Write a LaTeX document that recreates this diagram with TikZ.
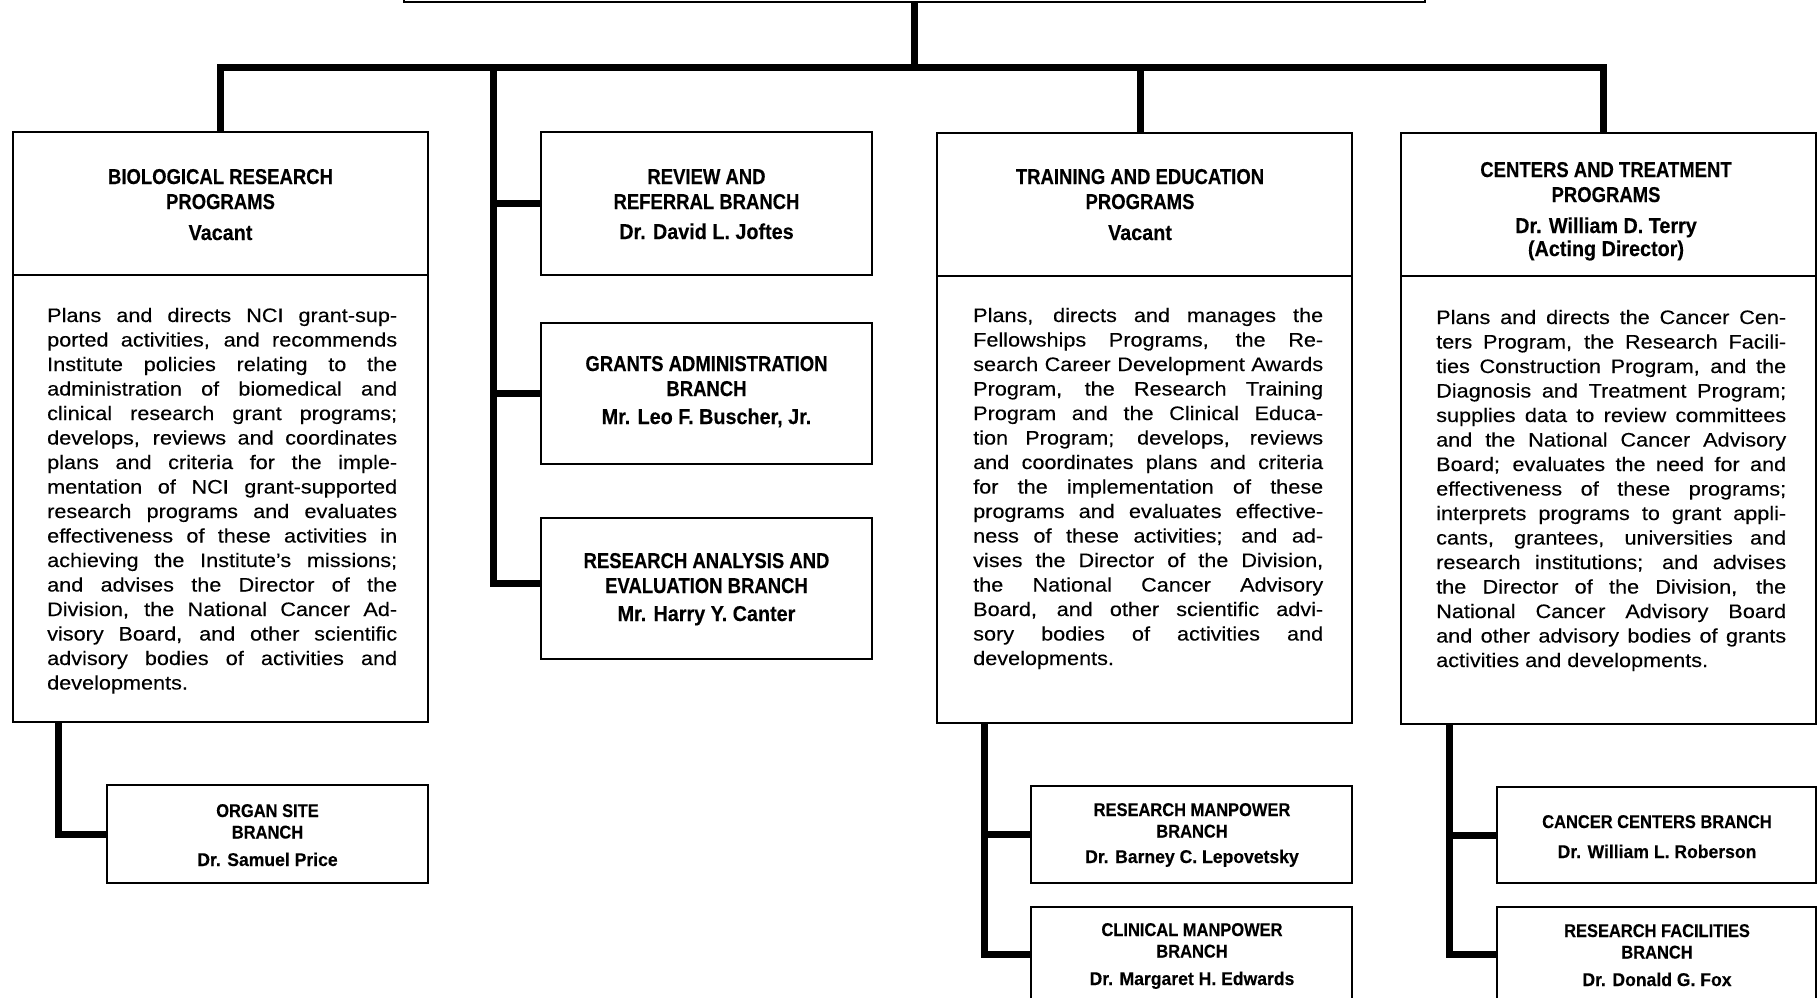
\documentclass[tikz,border=0pt]{standalone}
\usepackage{fontspec}
\setmainfont{Liberation Sans}
\newfontfamily\fBody[FakeStretch=1.11,FakeBold=0.25]{Liberation Sans}
\newfontfamily\fHead[FakeStretch=0.86,FakeBold=0.3]{Liberation Sans}
\newfontfamily\fName[FakeStretch=0.92,FakeBold=0.3]{Liberation Sans}
\newfontfamily\fSubHead[FakeStretch=0.89,FakeBold=0.3]{Liberation Sans}
\newfontfamily\fSubName[FakeStretch=0.95,FakeBold=0.3]{Liberation Sans}
\newcommand\jl[1]{\makebox[\linewidth][s]{#1}\par}
\newcommand\bodytext[1]{\parbox[t]{350pt}{\fBody\fontsize{19.5}{24.5}\selectfont\parindent=0pt #1}}
\newcommand\hd[1]{\fontsize{21.5}{25}\selectfont\begin{tabular}[t]{@{}c@{}}#1\end{tabular}}
\newcommand\sh[1]{\fontsize{18.5}{21.5}\selectfont\begin{tabular}[t]{@{}c@{}}#1\end{tabular}}
\usetikzlibrary{calc}
\begin{document}
\begin{tikzpicture}[x=1pt,y=-1pt,
  box/.style={draw, line width=2.4pt, inner sep=0pt, outer sep=0pt, anchor=north west},
  conn/.style={line width=7pt, line join=miter},
  divider/.style={line width=2.4pt},
  htext/.style={anchor=base, inner sep=0pt, font=\fHead\bfseries},
  stext/.style={anchor=base, inner sep=0pt, font=\fSubHead\bfseries},
  btext/.style={anchor=base west, inner sep=0pt}]
\useasboundingbox (0,0) rectangle (1819,997);
\clip (0,0) rectangle (1819,997);

% boxes
\node[box, anchor=south west, minimum width=1021pt, minimum height=60pt] (top) at (404,2) {};
\node[box, minimum width=415pt, minimum height=590pt] (bio) at (13,132) {};
\node[box, minimum width=331pt, minimum height=143pt] (review) at (541,132) {};
\node[box, minimum width=331pt, minimum height=141pt] (grants) at (541,323) {};
\node[box, minimum width=331pt, minimum height=141pt] (analysis) at (541,518) {};
\node[box, minimum width=415pt, minimum height=590pt] (training) at (937,133) {};
\node[box, minimum width=415pt, minimum height=591pt] (centers) at (1401,133) {};
\node[box, minimum width=321pt, minimum height=98pt] (organ) at (107,785) {};
\node[box, minimum width=321pt, minimum height=97pt] (rman) at (1031,786) {};
\node[box, minimum width=321pt, minimum height=94pt] (cman) at (1031,907) {};
\node[box, minimum width=319pt, minimum height=96pt] (ccent) at (1497,787) {};
\node[box, minimum width=319pt, minimum height=94pt] (rfac) at (1497,907) {};

% dividers
\draw[divider] ([yshift=-143pt]bio.north west) -- ([yshift=-143pt]bio.north east);
\draw[divider] ([yshift=-143pt]training.north west) -- ([yshift=-143pt]training.north east);
\draw[divider] ([yshift=-143pt]centers.north west) -- ([yshift=-143pt]centers.north east);

% connectors
\coordinate (bus) at (913,67);
\coordinate (busR) at (1603,67);
\coordinate (trDrop) at (1140,67);
\coordinate (trunk) at (493,67);
\coordinate (bioSub) at (58,722);
\coordinate (trSub) at (984,723);
\coordinate (ceSub) at (1449,724);
\draw[conn] (top.south) -- (top.south |- bus);
\draw[conn] (bio.north) |- (busR) -- (busR |- centers.north);
\draw[conn] (trDrop) -- (trDrop |- training.north);
\draw[conn] (trunk) |- ([yshift=5pt]analysis.west);
\draw[conn] (trunk |- review.west) -- (review.west);
\draw[conn] (trunk |- grants.west) -- (grants.west);
\draw[conn] (bioSub) |- (organ.west);
\draw[conn] (trSub) |- (cman.west);
\draw[conn] (trSub |- rman.west) -- (rman.west);
\draw[conn] (ceSub) |- (rfac.west);
\draw[conn] (ceSub |- ccent.west) -- (ccent.west);

% headings
\node[htext] (bioT) at (220.5,184) {\hd{BIOLOGICAL RESEARCH\\PROGRAMS\\[6pt]\fName Vacant}};
\node[htext] (reviewT) at (706.5,184) {\hd{REVIEW AND\\REFERRAL BRANCH\\[5pt]\fName Dr. David L. Joftes}};
\node[htext] (trainingT) at (1140,184) {\hd{TRAINING AND EDUCATION\\PROGRAMS\\[6pt]\fName Vacant}};
\node[htext] (centersT) at (1606,177) {\hd{CENTERS AND TREATMENT\\PROGRAMS\\[6pt]\fName Dr. William D. Terry\\[-2pt]\fName (Acting Director)}};
\node[htext] (grantsT) at (706.5,371) {\hd{GRANTS ADMINISTRATION\\BRANCH\\[3pt]\fName Mr. Leo F. Buscher, Jr.}};
\node[htext] (analysisT) at (706.5,568) {\hd{RESEARCH ANALYSIS AND\\EVALUATION BRANCH\\[3pt]\fName Mr. Harry Y. Canter}};
\node[stext] (organT) at (267.5,817) {\sh{ORGAN SITE\\BRANCH\\[6pt]\fSubName Dr. Samuel Price}};
\node[stext] (rmanT) at (1192,816) {\sh{RESEARCH MANPOWER\\BRANCH\\[4pt]\fSubName Dr. Barney C. Lepovetsky}};
\node[stext] (cmanT) at (1192,936) {\sh{CLINICAL MANPOWER\\BRANCH\\[6pt]\fSubName Dr. Margaret H. Edwards}};
\node[stext] (ccentT) at (1657,828) {\sh{CANCER CENTERS BRANCH\\[8.5pt]\fSubName Dr. William L. Roberson}};
\node[stext] (rfacT) at (1657,937) {\sh{RESEARCH FACILITIES\\BRANCH\\[6pt]\fSubName Dr. Donald G. Fox}};

% descriptions
\node[btext] (bioD) at (47,322) {\bodytext{%
\jl{Plans and directs NCI grant-sup-}
\jl{ported activities, and recommends}
\jl{Institute policies relating to the}
\jl{administration of biomedical and}
\jl{clinical research grant programs;}
\jl{develops, reviews and coordinates}
\jl{plans and criteria for the imple-}
\jl{mentation of NCI grant-supported}
\jl{research programs and evaluates}
\jl{effectiveness of these activities in}
\jl{achieving the Institute’s missions;}
\jl{and advises the Director of the}
\jl{Division, the National Cancer Ad-}
\jl{visory Board, and other scientific}
\jl{advisory bodies of activities and}
developments.\par}};
\node[btext] (trainingD) at (973,322) {\bodytext{%
\jl{Plans, directs and manages the}
\jl{Fellowships Programs, the Re-}
\jl{search Career Development Awards}
\jl{Program, the Research Training}
\jl{Program and the Clinical Educa-}
\jl{tion Program; develops, reviews}
\jl{and coordinates plans and criteria}
\jl{for the implementation of these}
\jl{programs and evaluates effective-}
\jl{ness of these activities; and ad-}
\jl{vises the Director of the Division,}
\jl{the National Cancer Advisory}
\jl{Board, and other scientific advi-}
\jl{sory bodies of activities and}
developments.\par}};
\node[btext] (centersD) at (1436,324) {\bodytext{%
\jl{Plans and directs the Cancer Cen-}
\jl{ters Program, the Research Facili-}
\jl{ties Construction Program, and the}
\jl{Diagnosis and Treatment Program;}
\jl{supplies data to review committees}
\jl{and the National Cancer Advisory}
\jl{Board; evaluates the need for and}
\jl{effectiveness of these programs;}
\jl{interprets programs to grant appli-}
\jl{cants, grantees, universities and}
\jl{research institutions; and advises}
\jl{the Director of the Division, the}
\jl{National Cancer Advisory Board}
\jl{and other advisory bodies of grants}
activities and developments.\par}};
\end{tikzpicture}
\end{document}
